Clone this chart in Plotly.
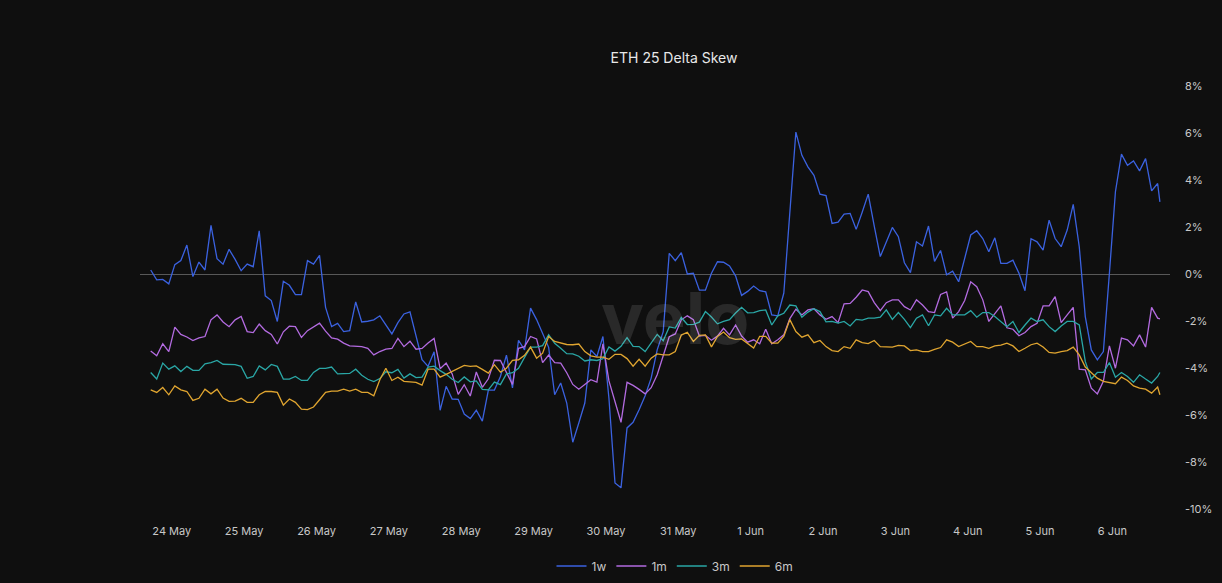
import pandas as pd
import plotly.graph_objects as go

# 2-hourly timestamps (last point is a partial, latest print)
times = list(pd.date_range("2024-05-23 17:00", periods=168, freq="2h")) + [pd.Timestamp("2024-06-06 15:45")]

skew_1w = [0.17, -0.25, -0.23, -0.42, 0.40, 0.57, 1.23, -0.11, 0.51, 0.17,
           2.07, 0.65, 0.42, 1.05, 0.62, 0.14, 0.42, 0.31, 1.84, -0.93,
           -1.13, -2.02, -0.31, -0.48, -0.88, -0.88, 0.57, 0.42, 0.79, -1.42,
           -2.24, -2.10, -2.45, -2.41, -1.19, -2.04, -2.01, -1.95, -1.78, -2.18,
           -2.55, -2.07, -1.70, -1.61, -2.66, -3.65, -3.93, -3.31, -5.80, -4.78,
           -5.32, -5.33, -5.96, -6.15, -5.80, -6.26, -4.94, -4.94, -4.36, -3.45,
           -4.85, -2.82, -3.23, -1.45, -1.94, -2.52, -3.12, -5.14, -4.64, -5.49,
           -7.16, -6.34, -5.49, -3.23, -3.51, -2.66, -5.30, -8.89, -9.10, -6.55,
           -6.31, -5.78, -5.18, -4.43, -3.23, -2.45, 0.88, 0.57, 0.91, 0.00,
           0.03, -0.69, -0.69, 0.03, 0.52, 0.50, 0.34, -0.08, -0.91, -0.74,
           -0.51, -0.71, -0.76, -1.74, -1.78, -0.81, 2.60, 6.04, 5.05, 4.56,
           4.20, 3.40, 3.34, 2.15, 2.21, 2.55, 2.58, 1.90, 2.63, 3.40,
           2.04, 0.74, 1.36, 1.98, 1.59, 0.48, 0.06, 1.37, 1.19, 2.04,
           0.54, 1.00, -0.03, 0.12, -0.33, 0.67, 1.66, 1.84, 1.51, 0.95,
           1.54, 0.45, 0.45, 0.59, 0.03, -0.71, 1.50, 1.37, 1.02, 2.29,
           1.51, 1.16, 1.87, 2.96, 1.16, -1.81, -3.23, -3.65, -3.30, 0.03,
           3.50, 5.10, 4.63, 4.81, 4.39, 4.91, 3.54, 3.85, 3.07]

skew_1m = [-3.28, -3.48, -2.97, -3.30, -2.26, -2.57, -2.68, -2.83, -2.72, -2.66,
           -1.95, -1.74, -2.04, -2.24, -1.95, -1.81, -2.45, -2.49, -2.13, -2.41,
           -2.57, -2.98, -2.46, -2.22, -2.24, -2.70, -2.41, -2.24, -2.09, -2.43,
           -2.72, -2.77, -2.94, -3.06, -3.06, -3.09, -3.16, -3.44, -3.30, -3.20,
           -3.17, -2.74, -3.09, -2.86, -3.20, -3.17, -2.94, -2.74, -4.03, -3.79,
           -4.25, -5.12, -4.71, -5.19, -4.17, -4.82, -4.46, -3.67, -3.68, -4.18,
           -4.70, -3.16, -3.09, -2.66, -2.76, -3.77, -3.45, -3.77, -3.79, -4.20,
           -4.70, -4.90, -4.70, -4.50, -4.60, -2.97, -4.55, -5.40, -6.31, -4.61,
           -4.74, -4.91, -5.10, -4.84, -4.29, -3.48, -2.67, -2.55, -1.95, -1.78,
           -1.94, -2.64, -2.61, -2.82, -2.64, -2.31, -2.59, -2.17, -2.64, -2.90,
           -2.80, -2.97, -2.35, -2.97, -2.80, -2.59, -1.90, -1.50, -1.74, -1.53,
           -1.48, -1.74, -1.93, -1.81, -2.07, -1.27, -1.25, -0.99, -0.68, -0.75,
           -1.22, -1.56, -1.22, -1.10, -1.10, -1.39, -1.53, -1.10, -1.32, -1.60,
           -1.64, -0.87, -0.76, -1.88, -1.60, -1.13, -0.33, -0.54, -1.10, -2.02,
           -1.70, -1.36, -2.29, -2.35, -2.63, -2.49, -2.24, -2.10, -1.36, -1.36,
           -0.96, -2.07, -1.74, -1.42, -4.05, -4.08, -4.86, -5.10, -4.57, -3.06,
           -4.01, -2.73, -2.80, -3.06, -2.59, -3.11, -1.42, -1.88, -1.91]

skew_3m = [-4.19, -4.47, -3.79, -4.05, -3.91, -4.15, -3.93, -4.10, -4.10, -3.82,
           -3.77, -3.68, -3.84, -3.86, -3.86, -3.93, -4.44, -4.36, -3.91, -4.08,
           -3.85, -3.93, -4.47, -4.47, -4.36, -4.53, -4.53, -4.19, -4.02, -4.02,
           -3.96, -4.25, -4.25, -4.23, -4.05, -4.31, -4.48, -4.58, -4.45, -4.16,
           -4.20, -4.06, -4.43, -4.25, -4.41, -4.39, -3.96, -3.92, -4.11, -4.27,
           -4.48, -4.62, -4.38, -4.59, -4.55, -4.91, -4.93, -4.60, -4.71, -4.25,
           -4.20, -4.01, -3.55, -3.11, -3.11, -3.05, -2.58, -2.95, -3.16, -3.39,
           -3.40, -3.50, -3.70, -3.65, -3.68, -3.60, -3.10, -3.28, -3.08, -2.71,
           -3.08, -3.09, -3.30, -2.93, -2.57, -2.84, -2.25, -2.30, -1.85, -2.15,
           -2.14, -2.05, -1.60, -1.83, -2.12, -2.02, -1.94, -1.66, -1.42, -1.65,
           -1.64, -1.56, -1.53, -2.17, -1.78, -1.67, -1.32, -1.36, -1.84, -1.62,
           -1.48, -1.60, -2.04, -2.02, -2.09, -2.02, -2.21, -1.93, -1.96, -1.88,
           -1.88, -1.84, -1.53, -1.93, -1.64, -1.93, -2.28, -1.88, -1.74, -2.20,
           -1.74, -1.78, -1.46, -1.74, -1.74, -1.74, -1.56, -1.84, -1.64, -1.64,
           -1.81, -2.02, -2.24, -2.02, -2.49, -2.17, -1.88, -2.02, -1.95, -2.24,
           -2.45, -2.21, -2.02, -2.02, -2.17, -3.72, -4.47, -4.19, -4.19, -3.77,
           -4.39, -4.19, -4.36, -4.61, -4.29, -4.47, -4.64, -4.36, -4.19]

skew_6m = [-4.93, -5.04, -4.83, -5.14, -4.76, -4.93, -5.00, -5.38, -5.29, -4.90,
           -5.10, -4.90, -5.28, -5.42, -5.41, -5.29, -5.46, -5.46, -5.14, -5.00,
           -5.00, -5.04, -5.58, -5.32, -5.46, -5.75, -5.77, -5.66, -5.35, -5.04,
           -4.98, -4.98, -4.90, -4.98, -4.90, -5.04, -5.04, -5.18, -4.50, -4.01,
           -4.53, -4.39, -4.57, -4.59, -4.61, -4.73, -4.05, -4.05, -4.39, -4.27,
           -4.15, -4.03, -3.89, -3.93, -3.91, -4.06, -4.22, -3.86, -4.18, -4.01,
           -3.67, -3.65, -3.46, -3.11, -3.58, -3.37, -2.66, -2.87, -2.95, -3.00,
           -3.01, -2.98, -3.30, -3.48, -3.54, -3.54, -3.63, -3.42, -3.42, -3.60,
           -3.92, -3.63, -3.92, -3.58, -3.40, -3.44, -3.44, -3.30, -2.60, -2.48,
           -2.87, -2.61, -2.59, -3.10, -2.66, -2.47, -2.71, -2.78, -2.76, -2.95,
           -3.15, -2.65, -2.65, -2.94, -2.94, -2.66, -1.94, -2.45, -2.69, -2.59,
           -2.92, -2.83, -3.09, -3.26, -3.30, -3.09, -3.16, -2.80, -2.92, -2.96,
           -2.83, -3.09, -3.11, -3.11, -3.04, -3.06, -3.26, -3.23, -3.30, -3.30,
           -3.21, -3.13, -2.80, -2.90, -3.09, -2.97, -2.87, -3.09, -3.09, -3.16,
           -3.06, -3.03, -2.94, -3.06, -3.30, -3.16, -3.01, -2.94, -3.11, -3.34,
           -3.37, -3.30, -3.26, -3.11, -3.44, -3.96, -4.19, -4.43, -4.57, -4.61,
           -4.67, -4.39, -4.53, -4.76, -4.86, -4.90, -5.07, -4.81, -5.14]

series_names = ["1w", "1m", "3m", "6m"]
series_colors = ["#3b62e0", "#b36be0", "#2aa7a6", "#e0a530"]
series_values = [skew_1w, skew_1m, skew_3m, skew_6m]

x_tick_dates = ["2024-05-24", "2024-05-25", "2024-05-26", "2024-05-27", "2024-05-28",
                "2024-05-29", "2024-05-30", "2024-05-31", "2024-06-01", "2024-06-02",
                "2024-06-03", "2024-06-04", "2024-06-05", "2024-06-06"]
x_tick_labels = ["24 May", "25 May", "26 May", "27 May", "28 May", "29 May", "30 May",
                 "31 May", "1 Jun", "2 Jun", "3 Jun", "4 Jun", "5 Jun", "6 Jun"]
y_tick_vals = [8, 6, 4, 2, 0, -2, -4, -6, -8, -10]
y_tick_labels = ["8%", "6%", "4%", "2%", "0%", "-2%", "-4%", "-6%", "-8%", "-10%"]

BG = "#0f0f0f"
FONT = "Inter, Lato, sans-serif"

fig = go.Figure()
for name, vals, color in zip(series_names, series_values, series_colors):
    fig.add_trace(go.Scatter(x=times, y=vals, mode="lines", name=name,
                             line=dict(color=color, width=1.3)))

fig.add_annotation(text="<b>velo</b>", xref="paper", yref="paper", x=0.519, y=0.453,
                   xanchor="center", yanchor="middle", showarrow=False,
                   font=dict(family=FONT, size=72, color="rgba(255,255,255,0.11)"))

fig.update_layout(
    width=1222, height=583,
    paper_bgcolor=BG, plot_bgcolor=BG,
    margin=dict(l=140, r=52, t=86, b=74, autoexpand=False),
    font=dict(family=FONT, size=11, color="#c8c8c8"),
    title=dict(text="ETH 25 Delta Skew", xref="container", x=674 / 1222, xanchor="center",
               yref="container", y=1 - 58 / 583, yanchor="middle",
               font=dict(family=FONT, size=14, color="#e8e8e8")),
    showlegend=True,
    legend=dict(orientation="h", xref="container", x=675 / 1222, xanchor="center",
                yref="container", y=1 - 566 / 583, yanchor="middle",
                font=dict(family=FONT, size=12, color="#c8c8c8"), itemwidth=30,
                bgcolor="rgba(0,0,0,0)"),
    xaxis=dict(type="date", range=["2024-05-23 13:27", "2024-06-06 19:06"],
               tickvals=x_tick_dates, ticktext=x_tick_labels, automargin=False,
               showgrid=False, zeroline=False, showline=False, ticks="",
               ticklabelstandoff=14, tickfont=dict(size=11, color="#c8c8c8")),
    yaxis=dict(side="right", range=[-10, 8], tickvals=y_tick_vals, ticktext=y_tick_labels,
               automargin=False,
               showgrid=False, zeroline=True, zerolinecolor="#585858", zerolinewidth=1,
               showline=False, ticks="", ticklabelstandoff=14,
               tickfont=dict(size=11, color="#c8c8c8")),
    hovermode=False,
)

fig.write_html("out.html")
